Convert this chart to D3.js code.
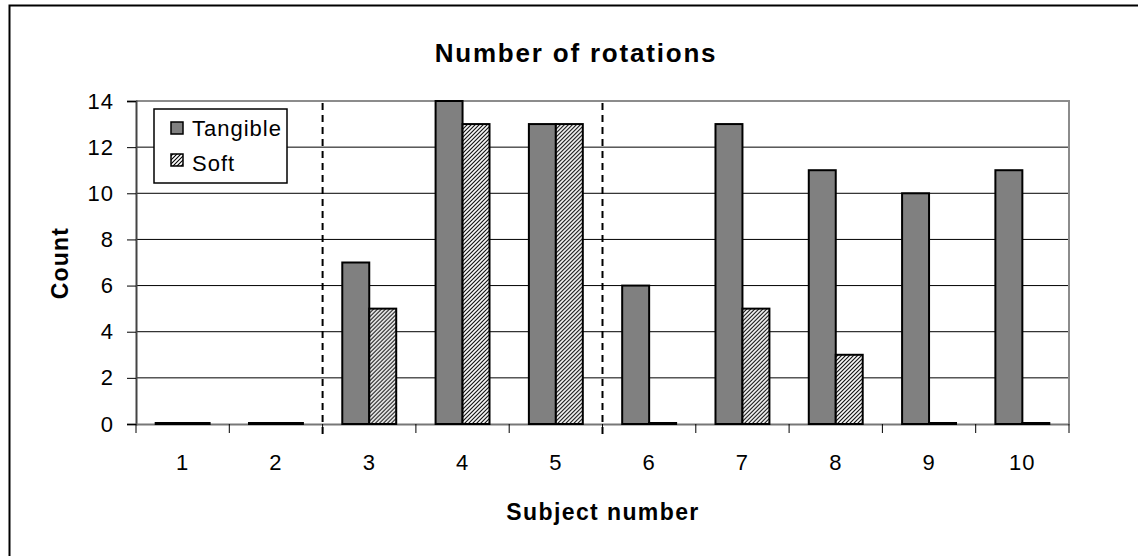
<!DOCTYPE html>
<html>
<head>
<meta charset="utf-8">
<script src="https://cdn.jsdelivr.net/npm/d3@7"></script>
<style>
  html, body { margin: 0; padding: 0; background: #fff; }
  svg { display: block; }
  text { font-family: Arial, "Liberation Sans", sans-serif; }
</style>
</head>
<body>
<svg id="chart" width="1138" height="556"></svg>
<script>
// Subjects and rotation counts per condition
const subjects = ["1", "2", "3", "4", "5", "6", "7", "8", "9", "10"];
const tangible = [0, 0, 7, 14, 13, 6, 13, 11, 10, 11];
const soft     = [0, 0, 5, 13, 13, 0, 5, 3, 0, 0];
const seriesNames = ["Tangible", "Soft"];
const yTicks = [0, 2, 4, 6, 8, 10, 12, 14];
// Group boundaries drawn as dashed separators (after these subjects)
const separatorsAfter = ["2", "5"];

const svg = d3.select("#chart");
const W = 1138, H = 556;
const plot = { left: 136, right: 1069, top: 101, bottom: 424 };

// Hatch pattern for the "Soft" series
const defs = svg.append("defs");
const pat = defs.append("pattern")
  .attr("id", "hatch").attr("patternUnits", "userSpaceOnUse")
  .attr("width", 4).attr("height", 4);
pat.append("rect").attr("width", 4).attr("height", 4).attr("fill", "#fff");
pat.append("path").attr("d", "M-1,1 L1,-1 M0,4 L4,0 M3,5 L5,3")
  .attr("stroke", "#000").attr("stroke-width", 1.1);

// Outer frame (top and left edges)
svg.append("path")
  .attr("d", `M9.5,${H} L9.5,5.5 L${W},5.5`)
  .attr("fill", "none").attr("stroke", "#000").attr("stroke-width", 2);

const x = d3.scaleBand().domain(subjects).range([plot.left, plot.right]).paddingInner(0).paddingOuter(0);
const inner = d3.scaleBand().domain(seriesNames).range([0, x.bandwidth()]).paddingInner(0).paddingOuter(0.73);
const y = d3.scaleLinear().domain([0, 14]).range([plot.bottom, plot.top]);

// Horizontal gridlines
svg.append("g").selectAll("line").data(yTicks.filter(d => d > 0 && d < 14)).join("line")
  .attr("x1", plot.left).attr("x2", plot.right)
  .attr("y1", d => y(d)).attr("y2", d => y(d))
  .attr("stroke", "#000").attr("stroke-width", 1);

// Plot-area border (top and right)
svg.append("path")
  .attr("d", `M${plot.left},${plot.top} L${plot.right},${plot.top} L${plot.right},${plot.bottom}`)
  .attr("fill", "none").attr("stroke", "#8c8c8c").attr("stroke-width", 2);

// Y axis
const yAxis = svg.append("g").attr("transform", `translate(${plot.left},0)`)
  .call(d3.axisLeft(y).tickValues(yTicks).tickSize(9).tickPadding(13).tickFormat(d3.format("d")));
yAxis.select(".domain").attr("stroke", "#444").attr("stroke-width", 2);
yAxis.selectAll(".tick line").attr("stroke", "#000").attr("stroke-width", 1);
yAxis.selectAll("text").attr("font-size", 22).attr("letter-spacing", 1).attr("fill", "#000");

// X axis
const xAxis = svg.append("g").attr("transform", `translate(0,${plot.bottom})`)
  .call(d3.axisBottom(x).tickSize(0).tickPadding(30));
xAxis.select(".domain").attr("stroke", "#777").attr("stroke-width", 2);
xAxis.selectAll("text").attr("font-size", 22).attr("letter-spacing", 1).attr("fill", "#000");
// tick marks at category boundaries
const boundaries = d3.range(subjects.length + 1).map(i => plot.left + i * x.step());
svg.append("g").selectAll("line").data(boundaries).join("line")
  .attr("x1", d => d).attr("x2", d => d)
  .attr("y1", plot.bottom).attr("y2", plot.bottom + 9)
  .attr("stroke", "#000").attr("stroke-width", 1);

// Dashed separators between subject groups
svg.append("g").selectAll("line").data(separatorsAfter).join("line")
  .attr("x1", d => x(d) + x.bandwidth()).attr("x2", d => x(d) + x.bandwidth())
  .attr("y1", plot.top + 2).attr("y2", plot.bottom + 14)
  .attr("stroke", "#000").attr("stroke-width", 2).attr("stroke-dasharray", "7,5");

// Bars (zero counts still show as a flat outlined bar on the axis)
const rows = subjects.map((s, i) => ({ s, vals: [tangible[i], soft[i]] }));
const fills = { Tangible: "#808080", Soft: "url(#hatch)" };
svg.append("g").selectAll("g").data(rows).join("g")
  .attr("transform", d => `translate(${x(d.s)},0)`)
  .selectAll("rect").data(d => seriesNames.map((n, k) => ({ n, v: d.vals[k] }))).join("rect")
  .attr("x", d => inner(d.n))
  .attr("width", inner.bandwidth())
  .attr("y", d => Math.min(y(d.v), y(0) - 1))
  .attr("height", d => Math.max(y(0) - y(d.v), 1))
  .attr("fill", d => d.v === 0 ? "#000" : fills[d.n])
  .attr("stroke", "#000").attr("stroke-width", 2);

// Legend
const lg = svg.append("g").attr("transform", "translate(154,109)");
lg.append("rect").attr("width", 133).attr("height", 74)
  .attr("fill", "#fff").attr("stroke", "#000").attr("stroke-width", 1.5);
seriesNames.forEach((n, i) => {
  const yy = 13 + i * 32;
  lg.append("rect").attr("x", 17).attr("y", yy).attr("width", 12).attr("height", 12)
    .attr("fill", fills[n]).attr("stroke", "#000").attr("stroke-width", 1.5);
  lg.append("text").attr("x", 38).attr("y", yy + 6 + i * 3).attr("dy", "0.36em")
    .attr("font-size", 22).attr("letter-spacing", 1).attr("fill", "#000").text(n);
});

// Titles
svg.append("text").attr("x", 576).attr("y", 53).attr("dy", "0.36em")
  .attr("text-anchor", "middle").attr("font-size", 26).attr("font-weight", "bold")
  .attr("letter-spacing", 1.8)
  .text("Number of rotations");
svg.append("text").attr("x", 603).attr("y", 512).attr("dy", "0.36em")
  .attr("text-anchor", "middle").attr("font-size", 23).attr("font-weight", "bold")
  .attr("letter-spacing", 1.4)
  .text("Subject number");
svg.append("text").attr("transform", "translate(60,263) rotate(-90)").attr("dy", "0.36em")
  .attr("text-anchor", "middle").attr("font-size", 23).attr("font-weight", "bold")
  .attr("letter-spacing", 1.2)
  .text("Count");
</script>
</body>
</html>
